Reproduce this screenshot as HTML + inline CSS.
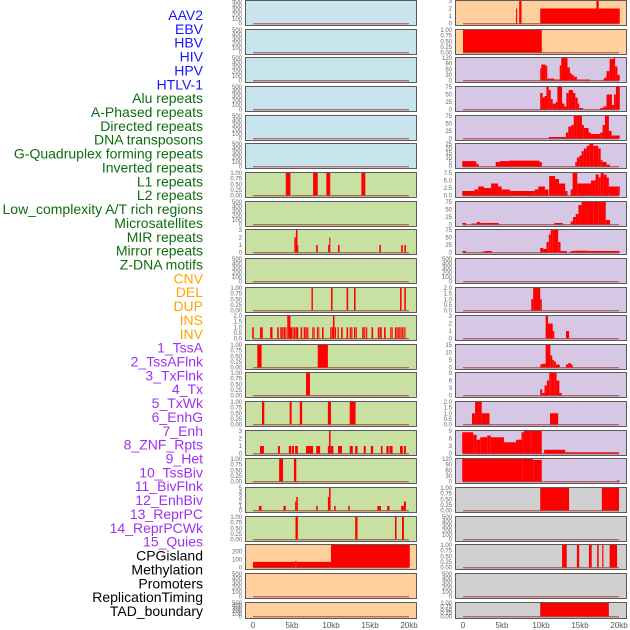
<!DOCTYPE html>
<html><head><meta charset="utf-8">
<style>
html,body{margin:0;padding:0;background:#fff;}
svg{display:block;font-family:"Liberation Sans",sans-serif;}
</style></head>
<body>
<svg id="chart" width="630" height="630" viewBox="0 0 630 630" xmlns="http://www.w3.org/2000/svg"></svg>
<script>
// ---------- data (kb start, kb end, value) ----------
const featureNames = ["AAV2","EBV","HBV","HIV","HPV","HTLV-1","Alu repeats","A-Phased repeats","Directed repeats","DNA transposons","G-Quadruplex forming repeats","Inverted repeats","L1 repeats","L2 repeats","Low_complexity A/T rich regions","Microsatellites","MIR repeats","Mirror repeats","Z-DNA motifs","CNV","DEL","DUP","INS","INV","1_TssA","2_TssAFlnk","3_TxFlnk","4_Tx","5_TxWk","6_EnhG","7_Enh","8_ZNF_Rpts","9_Het","10_TssBiv","11_BivFlnk","12_EnhBiv","13_ReprPC","14_ReprPCWk","15_Quies","CPGisland","Methylation","Promoters","ReplicationTiming","TAD_boundary"];
const empty = [];
const segL7 = [[4.2,4.8,1],[7.7,8.3,1],[9.4,9.9,1],[13.9,14.4,1]];
const segL9 = [[5.3,5.5,2],[5.5,5.7,3],[5.7,5.8,1],[8.1,8.3,1],[9.62,9.78,1],[9.78,9.92,2],[10.9,11.1,1],[16.2,16.4,1],[19.0,19.2,1],[19.4,19.6,1]];
const segL11 = [[7.5,7.68,1],[10.0,10.2,1],[12.0,12.2,1],[12.95,13.15,1],[18.85,19.05,1],[19.4,19.6,1]];
const segL12 = [[-0.1,0.1,1],[0.9,1.1,1],[1.1,1.25,1],[2.2,2.5,1],[3.1,3.3,1],[3.5,3.7,1],[3.75,3.9,1],[3.95,4.1,1],[4.15,4.3,1],[4.4,4.6,2],[4.6,4.8,2],[4.8,5.0,1],[5.05,5.2,1],[5.25,5.4,1],[5.45,5.6,1],[5.6,5.8,1],[6.1,6.3,1],[6.5,6.7,1],[6.75,6.9,1],[6.95,7.1,1],[7.6,7.75,1],[7.8,7.9,1],[8.2,8.35,1],[8.4,8.5,1],[8.85,9.05,1],[9.9,10.05,1],[10.1,10.25,1],[10.25,10.45,2],[10.5,10.65,1],[10.85,11.0,1],[11.3,11.5,1],[12.0,12.2,1],[12.4,12.55,1],[12.6,12.75,1],[12.95,13.1,1],[13.15,13.3,1],[14.0,14.2,1],[14.25,14.4,1],[14.5,14.65,1],[15.2,15.4,1],[16.0,16.2,1],[16.25,16.4,1],[16.4,16.5,1],[16.8,17.0,1],[17.6,17.75,1],[17.8,17.9,1],[18.2,18.35,1],[18.4,18.55,1],[18.6,18.7,1],[18.75,18.85,1],[18.9,19.0,1],[19.05,19.15,1],[19.15,19.3,1],[19.4,19.55,1]];
const segL13 = [[0.55,1.1,1],[8.3,9.6,1]];
const segL14 = [[6.8,7.3,1]];
const segL15 = [[1.15,1.45,1],[4.7,4.95,1],[6.0,6.3,1],[9.6,10.0,1],[12.4,13.15,1]];
const segL16 = [[0.9,1.4,1],[3.2,3.45,1],[4.6,4.9,1],[5.0,5.25,1],[5.4,5.75,1],[6.8,7.7,1],[8.1,8.6,1],[9.6,9.75,1],[9.75,9.95,3],[9.95,10.3,1],[10.9,11.4,1],[12.4,12.8,1],[13.1,13.4,1],[14.2,14.45,1],[15.1,15.4,1],[16.4,16.6,1],[17.1,17.4,1],[17.5,17.9,1],[18.85,19.2,1],[19.35,19.6,1]];
const segL17 = [[3.35,3.85,1],[5.25,5.55,1]];
const segL18 = [[0.75,1.1,1],[3.9,4.2,1],[5.4,5.55,2],[5.55,5.75,3],[8.1,8.3,1],[9.6,9.75,3],[9.75,9.95,5],[10.4,10.6,1],[12.2,12.4,1],[15.95,16.4,1],[17.2,17.5,1],[19.0,19.35,1],[19.35,19.6,2]];
const segL19 = [[5.45,5.75,1],[13.1,13.4,1],[18.2,18.4,1],[19.1,19.35,1]];
const segL20 = [[0,5.4,70],[5.4,5.6,80],[5.6,10,70],[10,20.1,280]];
const segR1 = [[6.8,6.95,2],[7.2,7.5,3.3],[9.9,20.1,2],[17.1,17.4,3]];
const segR2 = [[0,10.1,1]];
const segR3 = [[9.9,10.05,65],[10.05,10.6,85],[10.6,10.8,78],[10.8,11.7,10],[11.7,12.4,5],[12.4,12.6,80],[12.6,13.4,125],[13.4,13.7,70],[13.7,13.9,40],[13.9,14.2,30],[14.2,14.6,20],[14.6,16.3,5],[17.9,18.1,5],[18.1,18.4,15],[18.4,18.8,50],[18.8,19.3,115],[19.3,19.5,125],[19.5,19.8,75],[19.8,20.1,30]];
const segR4 = [[9.9,10.2,55],[10.2,10.45,40],[10.45,10.7,45],[10.7,11.0,85],[11.0,11.25,65],[11.25,11.5,35],[11.5,11.9,20],[11.9,12.1,25],[12.1,12.7,85],[12.7,13.0,20],[13.0,13.25,10],[13.25,13.55,55],[13.55,14.1,65],[14.1,14.4,55],[14.4,14.7,40],[14.7,14.9,20],[14.9,15.4,5],[17.6,18.0,5],[18.0,18.4,10],[18.4,19.1,50],[19.1,19.35,15],[19.35,19.6,50],[19.6,20.1,95]];
const segR5 = [[11.0,13.2,5],[13.2,13.5,20],[13.5,13.9,40],[13.9,14.2,45],[14.2,14.6,80],[14.6,15.0,90],[15.0,15.25,75],[15.25,15.5,45],[15.5,16.1,35],[16.1,16.4,20],[16.4,17.6,15],[17.6,17.9,20],[17.9,18.2,45],[18.2,18.7,90],[18.7,19.05,25],[19.05,20.1,10]];
const segR6 = [[-0.1,1.7,6],[1.7,2.0,3],[4.2,4.7,5],[4.7,5.9,6],[5.9,9.8,6.5],[9.8,10.1,5],[14.4,14.6,5],[14.6,14.9,10],[14.9,15.2,12],[15.2,15.5,17],[15.5,15.85,20],[15.85,16.2,23],[16.2,16.7,25],[16.7,17.35,23],[17.35,17.65,20],[17.65,17.9,7],[17.9,18.4,5],[18.4,18.85,2]];
const segR7 = [[-0.1,1.45,1.5],[1.45,1.95,2],[1.95,2.7,3],[2.7,3.6,2.5],[3.6,4.5,4],[4.5,4.95,3],[4.95,6.0,2],[6.0,9.2,1.5],[9.2,9.65,2],[9.65,10.5,3],[10.5,10.95,2],[11.05,11.8,6.5],[11.8,12.3,5.5],[12.3,13.1,4],[13.1,13.4,1.5],[13.8,14.05,2],[14.05,14.65,7.5],[14.65,16.4,4],[16.4,17.0,5],[17.0,17.4,7],[17.4,17.65,6],[17.65,18.0,8.5],[18.0,18.4,7],[18.4,18.7,6],[18.7,19.9,3],[19.9,20.1,3]];
const segR8 = [[-0.1,0.4,5],[1.1,1.75,3],[1.75,2.2,8],[2.2,4.6,5],[11.7,12.8,5],[13.8,14.1,10],[14.1,14.45,25],[14.45,14.8,35],[14.8,15.2,65],[15.2,15.65,75],[15.65,16.1,80],[16.1,16.7,85],[16.7,17.35,88],[17.35,17.95,90],[17.95,18.3,80],[18.3,18.85,15]];
const segR9 = [[-0.1,0.4,5],[2.4,2.8,3],[2.8,3.7,5],[9.9,10.3,15],[10.3,10.7,12],[10.7,11.0,35],[11.0,11.25,60],[11.25,11.5,80],[11.5,12.2,90],[12.2,12.5,35],[12.5,13.3,5],[13.8,14.2,5],[14.2,16.0,6],[16.0,20.1,5]];
const segR11 = [[8.75,9.0,1],[9.0,9.9,2],[9.9,10.1,1]];
const segR12 = [[10.6,10.9,3],[10.9,11.5,2],[11.5,11.7,1],[13.2,13.6,1]];
const segR13 = [[9.9,10.1,2],[10.1,10.6,2.5],[10.6,11.2,16],[11.2,11.45,8],[11.45,11.65,5],[11.65,11.9,4],[11.9,12.4,2],[13.2,13.5,2],[13.5,13.8,3],[13.8,14.05,2]];
const segR14 = [[9.9,10.15,2.5],[10.15,10.45,1],[10.45,10.75,4],[10.75,11.05,6],[11.05,11.25,10],[11.25,11.7,10.5],[11.7,12.0,9],[12.0,12.35,6],[12.35,12.65,1]];
const segR15 = [[1.15,1.55,1],[1.55,2.4,2],[2.4,3.4,1],[11.15,12.2,1]];
const segR16 = [[-0.1,1.3,8.5],[1.3,1.75,7.5],[1.75,2.2,5.5],[2.2,3.1,6.5],[3.1,3.55,7.2],[3.55,5.25,6.5],[5.25,6.8,4.5],[6.8,7.5,5.5],[7.5,7.8,8.5],[7.8,8.7,9.5],[8.7,10.1,11.5],[10.4,13.1,1.5],[13.1,20.0,0.5]];
const segR17 = [[-0.1,5.0,125],[5.0,7.65,130],[7.65,9.0,122],[9.0,10.1,115],[19.7,20.1,5]];
const segR18 = [[9.9,13.6,1],[17.8,20.0,1]];
const segR20 = [[12.7,13.3,1],[14.6,14.9,1],[16.15,16.5,1],[17.2,17.4,1],[17.85,18.0,1],[18.8,19.75,1]];
const segR22 = [[9.9,18.7,1]];

const ticksBig = ["0","100","200","300","400","500"];
const ticksUnit = ["0.00","0.25","0.50","0.75","1.00"];
const ticks0123 = ["0","1","2","3"];
const ticksHalf = ["0.0","0.5","1.0","1.5","2.0"];
const ticks05 = ["0","1","2","3","4","5"];
const ticksCpg = ["0","100","200"];
const ticks120 = ["0","30","60","90","120"];
const ticks75 = ["0","25","50","75"];
const ticks25 = ["0","5","10","15","20","25"];
const ticks75s = ["0.0","2.5","5.0","7.5"];
const ticks15 = ["0","5","10","15"];
const ticks9 = ["0","3","6","9"];
const xTickValues = [0,5,10,15,20];
const xTickLabels = ["0","5kb","10kb","15kb","20kb"];

const leftData = [empty,empty,empty,empty,empty,empty,segL7,empty,segL9,empty,segL11,segL12,segL13,segL14,segL15,segL16,segL17,segL18,segL19,segL20,empty,empty];
const leftTicks = [ticksBig,ticksBig,ticksBig,ticksBig,ticksBig,ticksBig,ticksUnit,ticksBig,ticks0123,ticksBig,ticksUnit,ticksHalf,ticksUnit,ticksUnit,ticksUnit,ticks0123,ticksUnit,ticks05,ticksUnit,ticksCpg,ticksBig,ticksBig];
const leftMax = [500,500,500,500,500,500,1,500,3,500,1,2,1,1,1,3,1,5,1,280,500,500];
const rightData = [segR1,segR2,segR3,segR4,segR5,segR6,segR7,segR8,segR9,empty,segR11,segR12,segR13,segR14,segR15,segR16,segR17,segR18,empty,segR20,empty,segR22];
const rightTicks = [ticks0123,ticksUnit,ticks120,ticks75,ticks75,ticks25,ticks75s,ticks75,ticks75,ticksBig,ticksHalf,ticks0123,ticks15,ticks9,ticksHalf,ticks9,ticks120,ticksUnit,ticksBig,ticksUnit,ticksBig,ticksUnit];
const rightMax = [3,1,120,75,75,25,7.5,75,75,500,2,3,15,9,2,9,120,1,500,1,500,1];

// ---------- drawing ----------
const NS = "http://www.w3.org/2000/svg";
const svg = document.getElementById("chart");
function mk(tag, attrs, parent){
  const e = document.createElementNS(NS, tag);
  for (const k in attrs) e.setAttribute(k, attrs[k]);
  (parent||svg).appendChild(e);
  return e;
}
const colLeft = [245, 455];
const panelW = 171;
const PX_PER_KB = 7.8;
function xScale(col, kb){ return colLeft[col] + 8 + kb*PX_PER_KB; }
function rowTop(r){ return Math.round(r*28.65); }
function rowH(r){ return r===21 ? 16 : 25; }
function yScale(r, v, max){
  const t=rowTop(r), h=rowH(r);
  const vv=Math.min(v,max*1.05);
  return t + (h-1.5) - vv/max*(h-2.5);
}
function bgFor(col,r){
  if(col===0){ if(r<6) return "#c8e4ec"; if(r<19) return "#c8e0a2"; return "#ffd09e"; }
  if(r<2) return "#ffd09e"; if(r<17) return "#d6c8e4"; return "#d0d0d0";
}
function labelColor(i){
  if(i<6) return "#1515ff"; if(i<19) return "#0d6e0d"; if(i<24) return "#ffa500"; if(i<39) return "#a030f0"; return "#000";
}

// feature labels
featureNames.forEach((n,i)=>{
  const t = mk("text",{x:203,y:15+i*13.86+5,"text-anchor":"end","font-size":"14",fill:labelColor(i)});
  
  
  t.textContent = n;
});

function drawPanel(col, r, data, ticks, max, name){
  const g = mk("g",{});
  
  
  const t=rowTop(r), h=rowH(r), x0=colLeft[col];
  const bg = mk("rect",{x:x0+0.5,y:t+0.5,width:panelW,height:h,fill:bgFor(col,r),stroke:"#5a5a5a","stroke-width":"1"},g);
  
  
  data.forEach(s=>{
    const xa=xScale(col,s[0]), xb=xScale(col,s[1]);
    const y=yScale(r,s[2],max), yb=yScale(r,0,max);
    const b = mk("rect",{x:xa,y:Math.max(t+1,y),width:Math.max(0.8,xb-xa),height:yb-Math.max(t+1,y),fill:"#ff0000"},g);
    
    
  });
  const base = mk("rect",{x:xScale(col,0),y:yScale(r,0,max)-0.5,width:20*PX_PER_KB,height:1.4,fill:"rgba(150,20,20,0.55)"},g);
  
  
  const tmax = parseFloat(ticks[ticks.length-1]);
  ticks.forEach(tk=>{
    const v=parseFloat(tk);
    const yy = t + (h-1.5) - v/tmax*(h-2.5)*(tmax/max>1?1:tmax/max);
    const tl = mk("text",{x:x0-3,y:yy+2,"text-anchor":"end","font-size":"6",fill:"#666"},g);
    
    
    tl.textContent = tk;
  });
}
for(let r=0;r<22;r++){
  drawPanel(0,r,leftData[r],leftTicks[r],leftMax[r],featureNames[r]);
  drawPanel(1,r,rightData[r],rightTicks[r],rightMax[r],featureNames[22+r]);
}
// x axes
[0,1].forEach(col=>{
  xTickValues.forEach((v,i)=>{
    const tl = mk("text",{x:xScale(col,v),y:628,"text-anchor":"middle","font-size":"8",fill:"#555"});
    
    
    tl.textContent = xTickLabels[i];
  });
});
</script>
</body></html>
